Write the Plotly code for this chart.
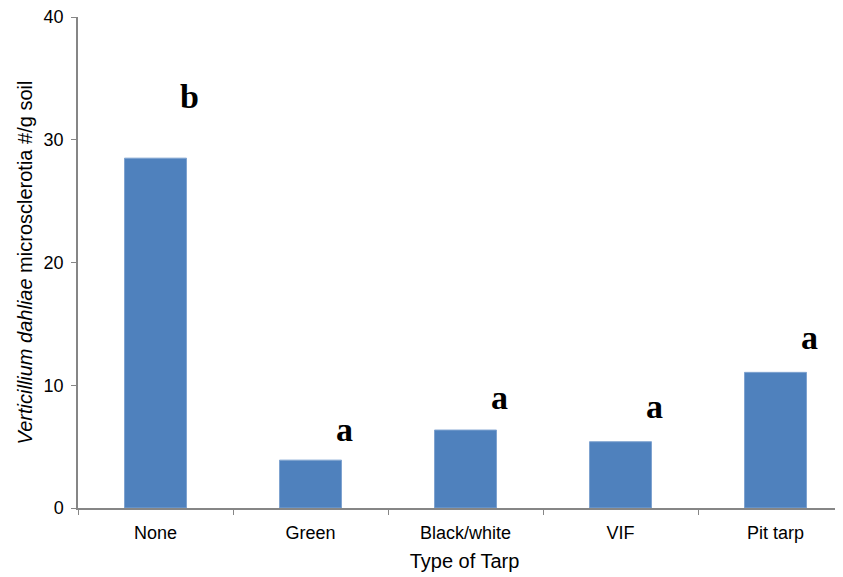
import plotly.graph_objects as go

categories = ["None", "Green", "Black/white", "VIF", "Pit tarp"]
values = [28.5, 3.9, 6.35, 5.4, 11.05]
letters = ["b", "a", "a", "a", "a"]
letter_y = [33.5, 6.4, 9.0, 8.25, 13.9]
y_ticks = [0, 10, 20, 30, 40]

fig = go.Figure()
fig.add_trace(go.Bar(
    x=categories, y=values,
    marker=dict(color="#4F81BD", line=dict(color="#7FA3D0", width=1)),
    width=0.4,
))

for i, (lab, ly) in enumerate(zip(letters, letter_y)):
    fig.add_annotation(
        x=i + 0.22, y=ly, xref="x", yref="y", text=f"<b>{lab}</b>",
        showarrow=False,
        font=dict(family="Liberation Serif", size=34, color="#000000"),
        xanchor="center", yanchor="middle",
    )

fig.update_layout(
    width=843, height=577,
    margin=dict(l=70, r=0, t=9, b=77),
    plot_bgcolor="white", paper_bgcolor="white",
    showlegend=False,
    font=dict(family="Liberation Sans", size=17, color="#000000"),
)
fig.update_xaxes(
    type="category",
    range=[-0.5, 4.487],
    showline=True, linecolor="#868686", linewidth=1.5,
    ticks="outside", tickson="boundaries", ticklen=5, tickcolor="#868686",
    tickfont=dict(size=18), ticklabelstandoff=8,
    title=dict(text="Type of Tarp", font=dict(size=20), standoff=12),
    showgrid=False, zeroline=False,
)
fig.update_yaxes(
    range=[0, 40], tickvals=y_ticks,
    showline=True, linecolor="#868686", linewidth=1.5,
    ticks="outside", ticklen=5, tickcolor="#868686",
    tickfont=dict(size=18), ticklabeloverflow="allow", ticklabelstandoff=4,
    title=dict(text="<i>Verticillium dahliae</i> microsclerotia #/g soil",
               font=dict(size=20), standoff=6),
    showgrid=False, zeroline=False,
)

fig.write_html("out.html")
